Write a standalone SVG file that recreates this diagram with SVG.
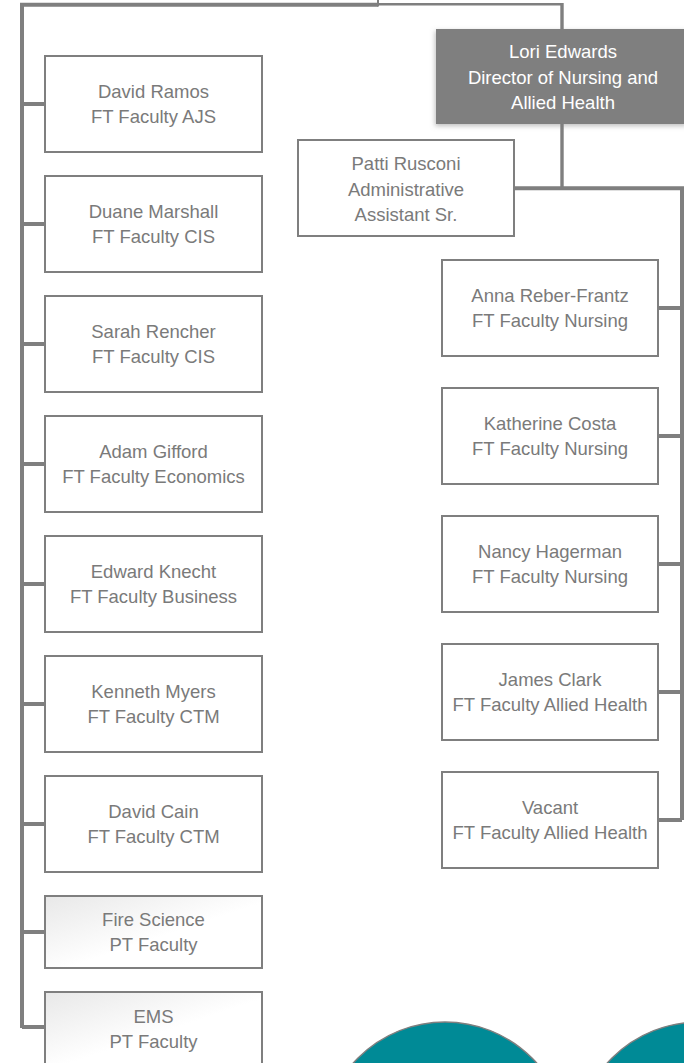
<svg xmlns="http://www.w3.org/2000/svg" width="684" height="1063" viewBox="0 0 684 1063">
<style>
.box{fill:#ffffff;stroke:#7f7f7f;stroke-width:2}
.pt{fill:url(#ptg);stroke:#7f7f7f;stroke-width:2}
.t{font-family:"Liberation Sans",Arial,sans-serif;font-size:18.5px;fill:#7a7a7a;text-anchor:middle}
.tw{font-family:"Liberation Sans",Arial,sans-serif;font-size:18.5px;fill:#ffffff;text-anchor:middle}
.ln{fill:none;stroke:#7f7f7f;stroke-width:4}
.circ{fill:#008a96;stroke:#7f7f7f;stroke-width:1.5}
</style>
<defs>
<linearGradient id="ptg" x1="0" y1="0" x2="1" y2="1">
<stop offset="0" stop-color="#e8e8e8"/>
<stop offset="0.55" stop-color="#ffffff"/>
</linearGradient>
<filter id="sh" x="-10%" y="-10%" width="120%" height="130%">
<feDropShadow dx="-1" dy="2" stdDeviation="2.5" flood-color="#7f7f7f" flood-opacity="0.5"/>
</filter>
</defs>
<g id="connectors">
<path class="ln" d="M22,1028 V4.7 H378"/>
<path class="ln" style="stroke-width:2" d="M378,0 V6.5"/>
<path class="ln" style="stroke-width:2.6" d="M378,4.3 H562"/>
<path class="ln" style="stroke-width:3.4" d="M562,3 V29"/>
<path class="ln" style="stroke-width:3.4" d="M562,124 V188"/>
<path class="ln" d="M515,188.3 H682 V820"/>
<path class="ln" d="M22,104 H45 M22,224 H45 M22,344 H45 M22,464 H45 M22,584 H45 M22,704 H45 M22,824 H45 M22,932 H45 M22,1027 H45"/>
<path class="ln" d="M658,308 H682 M658,436 H682 M658,564 H682 M658,692 H682 M658,820 H682"/>
</g>
<g id="lori">
<rect x="436" y="29" width="252" height="95" fill="#7f7f7f" filter="url(#sh)"/>
<text class="tw" x="563" y="58">Lori Edwards</text>
<text class="tw" x="563" y="84">Director of Nursing and</text>
<text class="tw" x="563" y="109">Allied Health</text>
</g>
<g id="patti">
<rect class="box" x="298" y="140" width="216" height="96"/>
<text class="t" x="406" y="170">Patti Rusconi</text>
<text class="t" x="406" y="196">Administrative</text>
<text class="t" x="406" y="221">Assistant Sr.</text>
</g>
<g id="ramos">
<rect class="box" x="45" y="56" width="217" height="96"/>
<text class="t" x="153.5" y="98">David Ramos</text>
<text class="t" x="153.5" y="123">FT Faculty AJS</text>
</g>
<g id="marshall">
<rect class="box" x="45" y="176" width="217" height="96"/>
<text class="t" x="153.5" y="218">Duane Marshall</text>
<text class="t" x="153.5" y="243">FT Faculty CIS</text>
</g>
<g id="rencher">
<rect class="box" x="45" y="296" width="217" height="96"/>
<text class="t" x="153.5" y="338">Sarah Rencher</text>
<text class="t" x="153.5" y="363">FT Faculty CIS</text>
</g>
<g id="gifford">
<rect class="box" x="45" y="416" width="217" height="96"/>
<text class="t" x="153.5" y="458">Adam Gifford</text>
<text class="t" x="153.5" y="483">FT Faculty Economics</text>
</g>
<g id="knecht">
<rect class="box" x="45" y="536" width="217" height="96"/>
<text class="t" x="153.5" y="578">Edward Knecht</text>
<text class="t" x="153.5" y="603">FT Faculty Business</text>
</g>
<g id="myers">
<rect class="box" x="45" y="656" width="217" height="96"/>
<text class="t" x="153.5" y="698">Kenneth Myers</text>
<text class="t" x="153.5" y="723">FT Faculty CTM</text>
</g>
<g id="cain">
<rect class="box" x="45" y="776" width="217" height="96"/>
<text class="t" x="153.5" y="818">David Cain</text>
<text class="t" x="153.5" y="843">FT Faculty CTM</text>
</g>
<g id="firescience">
<rect class="pt" x="45" y="896" width="217" height="72"/>
<text class="t" x="153.5" y="926">Fire Science</text>
<text class="t" x="153.5" y="951">PT Faculty</text>
</g>
<g id="ems">
<rect class="pt" x="45" y="992" width="217" height="72"/>
<text class="t" x="153.5" y="1023">EMS</text>
<text class="t" x="153.5" y="1048">PT Faculty</text>
</g>
<g id="reberfrantz">
<rect class="box" x="442" y="260" width="216" height="96"/>
<text class="t" x="550" y="302">Anna Reber-Frantz</text>
<text class="t" x="550" y="327">FT Faculty Nursing</text>
</g>
<g id="costa">
<rect class="box" x="442" y="388" width="216" height="96"/>
<text class="t" x="550" y="430">Katherine Costa</text>
<text class="t" x="550" y="455">FT Faculty Nursing</text>
</g>
<g id="hagerman">
<rect class="box" x="442" y="516" width="216" height="96"/>
<text class="t" x="550" y="558">Nancy Hagerman</text>
<text class="t" x="550" y="583">FT Faculty Nursing</text>
</g>
<g id="clark">
<rect class="box" x="442" y="644" width="216" height="96"/>
<text class="t" x="550" y="686">James Clark</text>
<text class="t" x="550" y="711">FT Faculty Allied Health</text>
</g>
<g id="vacant">
<rect class="box" x="442" y="772" width="216" height="96"/>
<text class="t" x="550" y="814">Vacant</text>
<text class="t" x="550" y="839">FT Faculty Allied Health</text>
</g>
<g id="circles">
<circle class="circ" cx="445" cy="1145" r="123"/>
<circle class="circ" cx="699" cy="1145" r="123"/>
</g>
</svg>
